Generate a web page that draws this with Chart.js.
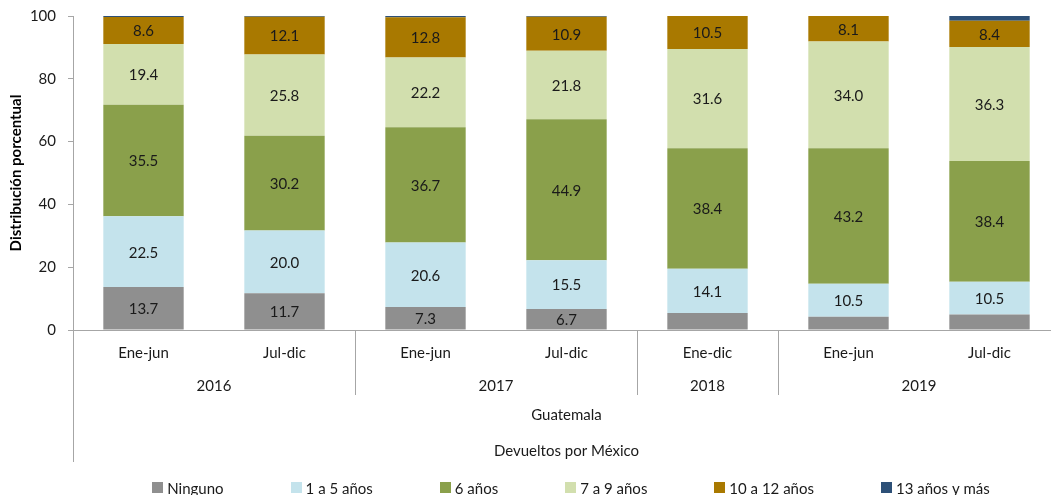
<!DOCTYPE html>
<html lang="es">
<head>
<meta charset="UTF-8">
<title>Guatemala - Devueltos por México</title>
<script src="https://cdn.jsdelivr.net/npm/chart.js"></script>
<style>
  html, body { margin: 0; padding: 0; background: #fff; overflow: hidden; }
  #wrap { position: relative; width: 1062px; height: 495px; }
</style>
</head>
<body>
<div id="wrap"><canvas id="chart"></canvas></div>
<script>
// datos
const periodos = ['Ene-jun', 'Jul-dic', 'Ene-jun', 'Jul-dic', 'Ene-dic', 'Ene-jun', 'Jul-dic'];
const anios = ['2016', '2016', '2017', '2017', '2018', '2019', '2019'];
const ninguno = [13.7, 11.7, 7.3, 6.7, 5.4, 4.2, 4.9];
const de1a5 = [22.5, 20.0, 20.6, 15.5, 14.1, 10.5, 10.5];
const seis = [35.5, 30.2, 36.7, 44.9, 38.4, 43.2, 38.4];
const de7a9 = [19.4, 25.8, 22.2, 21.8, 31.6, 34.0, 36.3];
const de10a12 = [8.6, 12.1, 12.8, 10.9, 10.5, 8.1, 8.4];
const mas13 = [0.3, 0.2, 0.4, 0.2, 0.0, 0.0, 1.5];
const yTicks = [0, 20, 40, 60, 80, 100];

const FONT = 'Lato, "Open Sans", sans-serif';
const GRIS = '#a6a6a6';
const TEXTO = '#1a1a1a';

// valores dentro de las barras, etiquetas de categoría en dos niveles y leyenda
const etiquetas = {
    id: 'etiquetas',
    afterDatasetsDraw(chart) {
        const ctx = chart.ctx;
        ctx.save();
        ctx.font = '15px ' + FONT;
        ctx.fillStyle = TEXTO;
        ctx.textAlign = 'center';
        ctx.textBaseline = 'middle';
        chart.data.datasets.forEach((ds, i) => {
            chart.getDatasetMeta(i).data.forEach((bar, j) => {
                const v = ds.data[j];
                if (v < 6) return;
                ctx.fillText(v.toFixed(1), bar.x, (bar.y + bar.base) / 2 + 1);
            });
        });
        ctx.restore();
    },
    afterDraw(chart) {
        const ctx = chart.ctx;
        const x = chart.scales.x;
        const area = chart.chartArea;
        const ancho = (area.right - area.left) / periodos.length;
        const px = v => Math.round(v) + 0.5;

        ctx.save();
        ctx.strokeStyle = GRIS;
        ctx.lineWidth = 1;
        ctx.beginPath();
        ctx.moveTo(px(area.left), area.bottom);
        ctx.lineTo(px(area.left), 462);
        for (let j = 1; j < periodos.length; j++) {
            if (anios[j] !== anios[j - 1]) {
                const sx = px(x.getPixelForValue(j) - ancho / 2);
                ctx.moveTo(sx, area.bottom);
                ctx.lineTo(sx, 395);
            }
        }
        ctx.stroke();

        ctx.font = '15px ' + FONT;
        ctx.fillStyle = TEXTO;
        ctx.textAlign = 'center';
        ctx.textBaseline = 'middle';
        periodos.forEach((p, j) => ctx.fillText(p, x.getPixelForValue(j), 353));

        let ini = 0;
        for (let j = 1; j <= anios.length; j++) {
            if (j === anios.length || anios[j] !== anios[ini]) {
                const cx = (x.getPixelForValue(ini) + x.getPixelForValue(j - 1)) / 2;
                ctx.fillText(anios[ini], cx, 386);
                ini = j;
            }
        }

        const mid = (area.left + area.right) / 2;
        ctx.fillText('Guatemala', mid, 415);
        ctx.fillText('Devueltos por México', mid, 451);

        // leyenda
        const caja = 11, sep = 4, hueco = 67, yl = 488;
        const items = chart.data.datasets.map(ds => ({
            text: ds.label, color: ds.backgroundColor, w: caja + sep + ctx.measureText(ds.label).width
        }));
        const total = items.reduce((s, it) => s + it.w, 0) + hueco * (items.length - 1);
        let lx = 571 - total / 2;
        ctx.textAlign = 'left';
        items.forEach(it => {
            ctx.fillStyle = it.color;
            ctx.fillRect(Math.round(lx), yl - 6, caja, caja);
            ctx.fillStyle = TEXTO;
            ctx.fillText(it.text, lx + caja + sep, yl + 1);
            lx += it.w + hueco;
        });
        ctx.restore();
    }
};

new Chart(document.getElementById('chart'), {
    type: 'bar',
    data: {
        labels: periodos,
        datasets: [
            { label: 'Ninguno', data: ninguno, backgroundColor: '#8f8f8f' },
            { label: '1 a 5 años', data: de1a5, backgroundColor: '#c4e3ec' },
            { label: '6 años', data: seis, backgroundColor: '#8aa04b' },
            { label: '7 a 9 años', data: de7a9, backgroundColor: '#d2dfae' },
            { label: '10 a 12 años', data: de10a12, backgroundColor: '#a97900' },
            { label: '13 años y más', data: mas13, backgroundColor: '#2d5077' }
        ]
    },
    options: {
        responsive: true,
        maintainAspectRatio: false,
        animation: false,
        datasets: {
            bar: { categoryPercentage: 1, barPercentage: 0.57 }
        },
        layout: {
            padding: { top: 16, right: 2, left: 0, bottom: 0 }
        },
        plugins: {
            legend: { display: false },
            tooltip: { enabled: false }
        },
        scales: {
            x: {
                stacked: true,
                grid: { display: false },
                border: { display: true, color: GRIS },
                ticks: { display: false },
                afterFit(scale) { scale.height = 165; }
            },
            y: {
                stacked: true,
                min: 0,
                max: 100,
                afterBuildTicks(scale) { scale.ticks = yTicks.map(v => ({ value: v })); },
                grid: { drawOnChartArea: false, drawTicks: true, tickLength: 5, color: GRIS },
                border: { display: true, color: GRIS },
                ticks: {
                    padding: 12,
                    color: TEXTO,
                    font: { family: FONT, size: 15 }
                },
                title: {
                    display: true,
                    text: 'Distribución porcentual',
                    color: '#000',
                    font: { family: FONT, size: 15, weight: 'bold' },
                    padding: { top: 7, bottom: 0 }
                },
                afterFit(scale) {
                    scale.width = 73;
                    scale.paddingTop = 0;
                    scale.paddingBottom = 0;
                }
            }
        }
    },
    plugins: [etiquetas]
});
</script>
</body>
</html>
